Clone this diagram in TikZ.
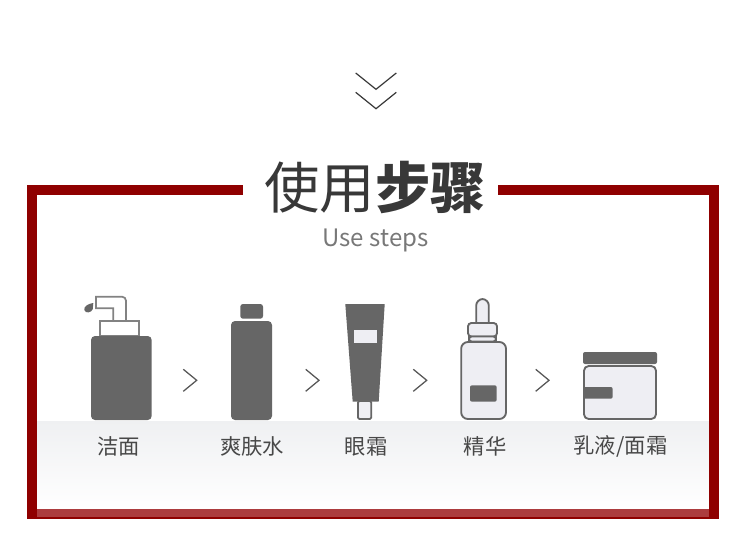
\documentclass[tikz,border=0pt]{standalone}
\usepackage{fontspec}
\setmainfont{Noto Sans CJK SC}
\definecolor{frameclr}{RGB}{143,0,0}
\definecolor{barclr}{RGB}{172,60,62}
\definecolor{iconclr}{RGB}{102,102,102}
\definecolor{pumpclr}{RGB}{130,130,130}
\definecolor{iconbg}{RGB}{238,238,243}
\definecolor{titleclr}{RGB}{56,56,56}
\definecolor{subclr}{RGB}{120,120,120}
\definecolor{labelclr}{RGB}{72,72,72}
\definecolor{shadeclr}{RGB}{239,240,242}
\tikzset{
  stepname/.style={anchor=center, inner sep=0pt, font=\fontsize{16}{18}\selectfont, text=labelclr},
  nextmark/.style={draw=iconclr!85!black, line width=0.95pt, line join=miter},
  downmark/.style={draw=titleclr, line width=0.9pt},
  solidpart/.style={fill=iconclr, draw=none},
  linepart/.style={draw=iconclr, line width=1.4pt, fill=iconbg},
  pumppart/.style={draw=pumpclr, line width=1.3pt, fill=white}
}
\begin{document}
\begin{tikzpicture}[x=0.75pt, y=-0.75pt]
  \useasboundingbox (0,0) rectangle (750,547);
  \fill[white] (0,0) rectangle (750,547);
  \shade[top color=shadeclr, bottom color=white] (37,421) rectangle (709,509);
  \fill[frameclr] (27,185) rectangle (243,195);
  \fill[frameclr] (498,185) rectangle (719,195);
  \fill[frameclr] (27,185) rectangle (37,519);
  \fill[frameclr] (709,185) rectangle (719,519);
  \fill[frameclr] (27,509) rectangle (719,519);
  \fill[barclr] (37,509) rectangle (709,517);
  \draw[downmark] (355.7,73) -- (376,89.3) -- (396.3,73);
  \draw[downmark] (355.7,92.3) -- (376,108.7) -- (396.3,92.3);
  \node[anchor=center, inner sep=0pt, font=\fontsize{41.5}{48}\selectfont, text=titleclr]
    (title) at (375,187) {使用\textbf{步骤}};
  \node[anchor=center, inner sep=0pt, font=\fontsize{18}{22}\selectfont, text=subclr]
    (subtitle) at (375.5,240) {Use steps};
  \draw[pumppart] (113.3,321.3) -- (113.3,308.3) -- (96,308.3) -- (96,296.7)
    [rounded corners=3pt] -- (126,296.7) -- (126,321.3);
  \fill[iconclr] (93.3,303) .. controls (92.5,305) and (93.6,306.5) .. (92.8,309)
    .. controls (91.8,312.6) and (85.5,314) .. (84.3,310) .. controls (83.4,306.5) and (88.5,303.5) .. (93.3,303) -- cycle;
  \draw[pumppart] (99.7,336) rectangle (139.3,321.3);
  \fill[solidpart, rounded corners=3pt] (91,336) rectangle (151.7,420);
  \fill[solidpart, rounded corners=2pt] (240.3,304) rectangle (263,318.7);
  \fill[solidpart, rounded corners=3pt] (231,321) rectangle (272,420);
  \draw[linepart, rounded corners=1pt] (358,401) rectangle (371.2,419);
  \fill[solidpart] (345.3,304) -- (384.7,304) -- (378.7,401.7) -- (352.7,401.7) -- cycle;
  \fill[iconbg] (354,330) rectangle (377,343);
  \draw[linepart, rounded corners=5pt] (476.2,323) -- (476.2,299) -- (488.8,299) -- (488.8,323);
  \draw[linepart, rounded corners=2.5pt] (468,336.5) rectangle (497,323);
  \draw[linepart, rounded corners=2pt] (469,341.5) rectangle (496,336.5);
  \draw[linepart, rounded corners=5pt] (461.2,342) rectangle (506,419);
  \fill[solidpart, rounded corners=1.5pt] (470,385.3) rectangle (496.7,401.7);
  \fill[solidpart, rounded corners=1.5pt] (583,352) rectangle (657,364);
  \draw[linepart, rounded corners=3.5pt] (584,366) rectangle (656,419);
  \fill[solidpart, rounded corners=1.5pt] (583.5,387) rectangle (612.7,398.7);
  \draw[nextmark] (183.3,369.3) -- (196.7,380.3) -- (183.3,391.3);
  \draw[nextmark] (305.7,369.3) -- (319,380.3) -- (305.7,391.3);
  \draw[nextmark] (413.3,369.3) -- (426.7,380.3) -- (413.3,391.3);
  \draw[nextmark] (535.7,369.3) -- (549,380.3) -- (535.7,391.3);
  \node[stepname] (cleanse) at (118.5,446.5) {洁面};
  \node[stepname] (toner) at (252,446.5) {爽肤水};
  \node[stepname] (eyecream) at (366,446.5) {眼霜};
  \node[stepname] (essence) at (485,446.5) {精华};
  \node[stepname] (lotion) at (620.5,446.5) {乳液/面霜};
\end{tikzpicture}
\end{document}
